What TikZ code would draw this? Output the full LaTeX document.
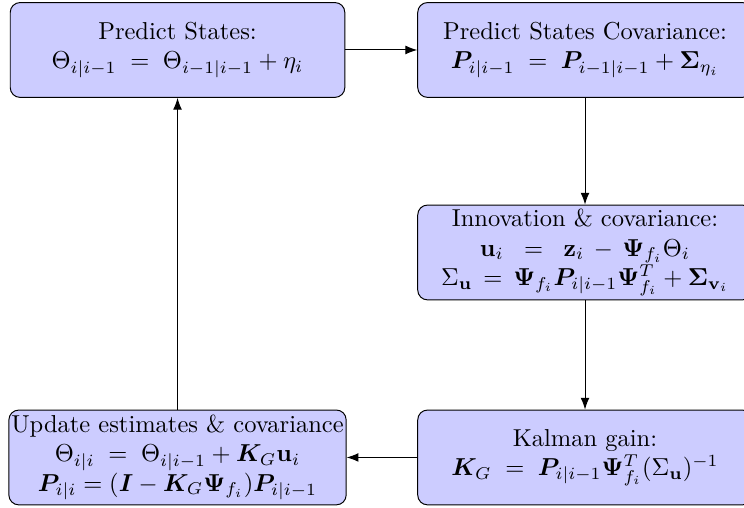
\documentclass[tikz,border=0pt]{standalone}
\usepackage{amsmath}
\usepackage{bm}
\usepackage{tikz}
\usetikzlibrary{arrows.meta,positioning}

\begin{document}
\begin{tikzpicture}[
  stage/.style={draw, fill=blue!20, rounded corners=4pt, align=center,
    minimum width=4.8cm, minimum height=1.36cm, inner sep=1pt},
]
\useasboundingbox (0,0.717) rectangle (10.674,-6.571);
\node[stage] (pred) at (2.547,0)
  {Predict States:\\
   $\Theta_{i|i-1} \;=\; \Theta_{i-1|i-1} + \eta_i$};
\node[stage] (predcov) at (8.393,0)
  {Predict States Covariance:\\
   $\bm{P}_{i|i-1} \;=\; \bm{P}_{i-1|i-1} + \bm{\Sigma}_{\eta_i}$};
\node[stage] (innov) at (8.393,-2.905)
  {Innovation \& covariance:\\
   $\mathbf{u}_i \;\;=\;\; \mathbf{z}_i \,-\, \bm{\Psi}_{f_i}\Theta_i$\\
   $\Sigma_{\mathbf{u}} \,=\, \bm{\Psi}_{f_i}\bm{P}_{i|i-1}\bm{\Psi}_{f_i}^T + \bm{\Sigma}_{\mathbf{v}_i}$};
\node[stage] (gain) at (8.393,-5.846)
  {Kalman gain:\\
   $\bm{K}_G \;=\; \bm{P}_{i|i-1}\bm{\Psi}_{f_i}^T(\Sigma_{\mathbf{u}})^{-1}$};
\node[stage] (update) at (2.547,-5.846)
  {Update estimates \& covariance\\
   $\Theta_{i|i} \;=\; \Theta_{i|i-1} + \bm{K}_G\mathbf{u}_i$\\
   $\bm{P}_{i|i} = (\bm{I} - \bm{K}_G\bm{\Psi}_{f_i})\bm{P}_{i|i-1}$};
\draw[-{Latex}] (pred) -- (predcov);
\draw[-{Latex}] (predcov) -- (innov);
\draw[-{Latex}] (innov) -- (gain);
\draw[-{Latex}] (gain) -- (update);
\draw[-{Latex}] (update) -- (pred);
\end{tikzpicture}
\end{document}
